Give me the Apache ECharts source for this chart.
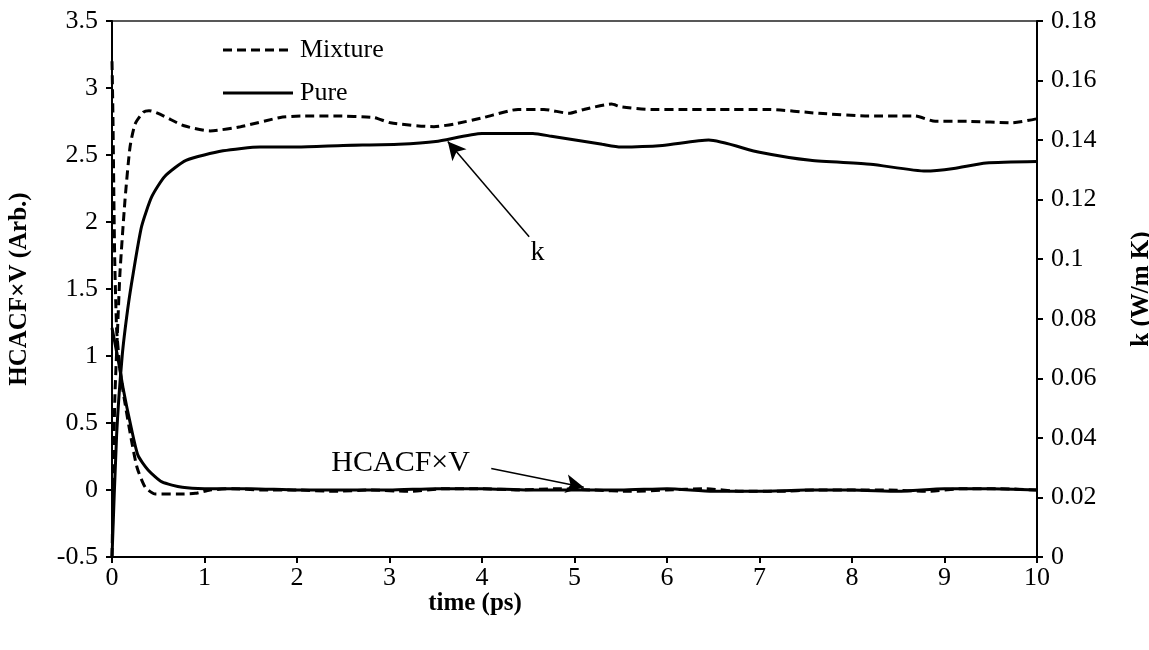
<!DOCTYPE html>
<html><head><meta charset="utf-8">
<script src="https://cdn.jsdelivr.net/npm/echarts@6/dist/echarts.min.js"></script>
<style>html,body{margin:0;padding:0;background:#fff;overflow:hidden}#c{width:1149px;height:650px}</style>
</head><body><div id="c"></div>
<script>
// HCACF×V (left axis, Arb.)
const hMixT = [0,0.01,0.02,0.03,0.05,0.08,0.11,0.14,0.2,0.27,0.36,0.47,0.7,0.9,1.06,1.3,1.6,2.0,2.4,2.8,3.2,3.6,4.0,4.4,4.8,5.2,5.6,6.0,6.4,6.8,7.2,7.6,8.0,8.4,8.8,9.2,9.6,10];
const hMixV = [3.2,2.8,2.2,1.7,1.2,0.95,0.78,0.65,0.41,0.17,0.02,-0.03,-0.03,-0.025,0.0,0.01,0.0,0.0,-0.01,0.0,-0.01,0.01,0.01,0.0,0.01,0.0,-0.01,0.0,0.01,-0.01,-0.01,0.0,0.0,0.0,-0.01,0.01,0.01,0.0];
const hPureT = [0,0.07,0.12,0.2,0.28,0.39,0.54,0.76,1.0,1.5,2.0,2.5,3.0,3.5,4.0,4.5,5.0,5.5,6.0,6.5,7.0,7.5,8.0,8.5,9.0,9.5,10];
const hPureV = [1.21,0.96,0.76,0.49,0.26,0.15,0.06,0.02,0.01,0.01,0.0,0.0,0.0,0.01,0.01,0.0,0.0,0.0,0.01,-0.01,-0.01,0.0,0.0,-0.01,0.01,0.01,0.0];
// k (right axis, W/m K)
const kMixT = [0,0.015,0.03,0.065,0.087,0.14,0.195,0.25,0.34,0.4,0.77,1.06,1.39,1.82,2.04,2.4,2.83,3.01,3.48,3.7,4.02,4.39,4.67,4.94,5.1,5.4,5.5,5.83,6.15,6.55,7.1,7.64,8.18,8.68,8.9,9.26,9.73,10];
const kMixV = [0,0.027,0.0527,0.0801,0.0959,0.1197,0.1377,0.1454,0.1494,0.1499,0.1449,0.1431,0.1445,0.1476,0.1481,0.1481,0.1476,0.1458,0.1445,0.1454,0.1476,0.1503,0.1503,0.149,0.1503,0.1521,0.1512,0.1503,0.1503,0.1503,0.1503,0.149,0.1481,0.1481,0.1463,0.1463,0.1458,0.1472];
const kPureT = [0,0.05,0.11,0.17,0.23,0.32,0.43,0.57,0.8,1.2,1.6,2.0,2.5,3.1,3.5,4.0,4.55,4.75,5.3,5.5,5.95,6.45,7.0,7.55,8.2,8.8,9.1,9.45,10];
const kPureV = [0,0.041,0.0675,0.0833,0.0954,0.111,0.121,0.1278,0.1332,0.1364,0.1377,0.1377,0.1382,0.1386,0.1395,0.1422,0.1422,0.1413,0.1386,0.1377,0.1382,0.14,0.1359,0.1332,0.1319,0.1296,0.1305,0.1323,0.1328];
const leftTicks = {min:-0.5, max:3.5, interval:0.5};
const rightTicks = {min:0, max:0.18, interval:0.02};
const xTicks = {min:0, max:10, interval:1};
const legendNames = ['Mixture','Pure'];

const zip = (t, v) => t.map((x, i) => [x, v[i]]);
const F = 'Liberation Serif, Times New Roman, serif';
const DASH = [9,5];
const dashed = {color:'#000', width:3, type:DASH};
const solid = {color:'#000', width:3, type:'solid'};

const chart = echarts.init(document.getElementById('c'), null, {renderer:'canvas'});
chart.setOption({
  animation:false,
  backgroundColor:'#fff',
  grid:{left:112, right:112, top:21, bottom:93, outerBoundsMode:'none', containLabel:false, show:true, borderColor:'#222', borderWidth:1.5},
  xAxis:{
    type:'value', min:xTicks.min, max:xTicks.max, interval:xTicks.interval,
    axisLine:{onZero:false, lineStyle:{color:'#000', width:2}},
    axisTick:{inside:false, length:6, lineStyle:{color:'#000', width:2}},
    axisLabel:{fontFamily:F, fontSize:26, color:'#000', margin:8},
    splitLine:{show:false}
  },
  yAxis:[{
    type:'value', position:'left', min:leftTicks.min, max:leftTicks.max, interval:leftTicks.interval,
    name:'HCACF×V (Arb.)', nameLocation:'middle', nameGap:80, nameRotate:90,
    nameTextStyle:{fontFamily:F, fontSize:25, fontWeight:'bold', color:'#000'},
    axisLine:{show:true, onZero:false, lineStyle:{color:'#000', width:2}},
    axisTick:{show:true, length:6, lineStyle:{color:'#000', width:2}},
    axisLabel:{fontFamily:F, fontSize:26, color:'#000', margin:14},
    splitLine:{show:false}
  },{
    type:'value', position:'right', min:rightTicks.min, max:rightTicks.max, interval:rightTicks.interval,
    name:'k (W/m K)', nameLocation:'middle', nameGap:92, nameRotate:90,
    nameTextStyle:{fontFamily:F, fontSize:25, fontWeight:'bold', color:'#000'},
    axisLine:{show:true, onZero:false, lineStyle:{color:'#000', width:2}},
    axisTick:{show:true, length:6, lineStyle:{color:'#000', width:2}},
    axisLabel:{fontFamily:F, fontSize:26, color:'#000', margin:14},
    splitLine:{show:false}
  }],
  graphic:[
    {type:'text', x:475, y:604, style:{text:'time (ps)', font:'bold 25px ' + F, fill:'#000', align:'center', verticalAlign:'middle'}},
    {type:'line', shape:{x1:223, y1:50, x2:293, y2:50}, style:{stroke:'#000', lineWidth:3, lineDash:DASH}},
    {type:'text', x:300, y:50, style:{text:legendNames[0], font:'26px ' + F, fill:'#000', align:'left', verticalAlign:'middle'}},
    {type:'line', shape:{x1:223, y1:93, x2:293, y2:93}, style:{stroke:'#000', lineWidth:3}},
    {type:'text', x:300, y:93, style:{text:legendNames[1], font:'26px ' + F, fill:'#000', align:'left', verticalAlign:'middle'}}
  ],
  series:[
    {name:'Mixture', type:'line', yAxisIndex:0, data:zip(hMixT,hMixV), showSymbol:false, symbol:'none', smooth:0.2, lineStyle:dashed, itemStyle:{color:'#000'}},
    {name:'Pure', type:'line', yAxisIndex:0, data:zip(hPureT,hPureV), showSymbol:false, symbol:'none', smooth:0.2, lineStyle:solid, itemStyle:{color:'#000'},
      markLine:{silent:true, symbol:['none','arrow'], symbolSize:[14,18], lineStyle:{color:'#000', width:1.5, type:'solid'}, label:{show:false},
        data:[
          [{coord:[4.51,1.89]},{coord:[3.63,2.60]}],
          [{coord:[4.1,0.16]},{coord:[5.1,0.02]}]
        ]},
      markPoint:{silent:true, symbol:'circle', symbolSize:0,
        label:{show:true, fontFamily:F, fontSize:28, color:'#000', position:'inside'},
        data:[
          {coord:[4.6,1.77], value:'k', label:{formatter:'k'}},
          {coord:[3.12,0.2], value:'HCACF×V', label:{formatter:'HCACF×V', fontSize:30}}
        ]}
    },
    {name:'Mixture', type:'line', yAxisIndex:1, data:zip(kMixT,kMixV), showSymbol:false, symbol:'none', smooth:0.2, lineStyle:dashed, itemStyle:{color:'#000'}},
    {name:'Pure', type:'line', yAxisIndex:1, data:zip(kPureT,kPureV), showSymbol:false, symbol:'none', smooth:0.2, lineStyle:solid, itemStyle:{color:'#000'}}
  ]
});
</script></body></html>
